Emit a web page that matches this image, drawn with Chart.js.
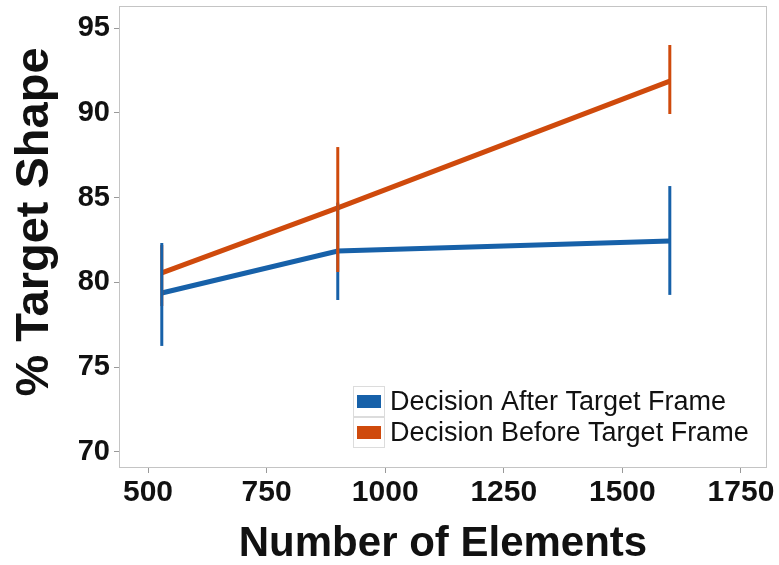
<!DOCTYPE html>
<html>
<head>
<meta charset="utf-8">
<script src="https://cdn.jsdelivr.net/npm/chart.js@4"></script>
<style>
  html, body { margin: 0; padding: 0; background: #fff; }
  #wrap { width: 779px; height: 565px; }
</style>
</head>
<body>
<div id="wrap"><canvas id="chart" width="779" height="565"></canvas></div>
<script>
const xValues = [529, 900, 1600];
const afterMeans = [79.37, 81.85, 82.44];
const afterLow = [76.25, 78.96, 79.26];
const afterHigh = [82.32, 84.7, 85.68];
const beforeMeans = [80.56, 84.39, 91.87];
const beforeLow = [78.6, 80.61, 89.93];
const beforeHigh = [82.2, 87.98, 94.0];
const xTicks = [500, 750, 1000, 1250, 1500, 1750];
const yTicks = [70, 75, 80, 85, 90, 95];
const seriesLabels = ["Decision After Target Frame", "Decision Before Target Frame"];
const yTitle = "% Target Shape";

const blue = "#1761a9";
const orange = "#cf4a0c";
const font = "'Liberation Sans', Arial, sans-serif";

const errors = [
  { low: afterLow, high: afterHigh },
  { low: beforeLow, high: beforeHigh },
];

// error bars: at each x the narrower bar goes first, wider on top
const errorBars = {
  id: "errorBars",
  afterDatasetsDraw(chart) {
    const { ctx, scales } = chart;
    ctx.save();
    ctx.lineWidth = 3;
    xValues.forEach((x, i) => {
      const order = [0, 1].sort(
        (a, b) => (errors[a].high[i] - errors[a].low[i]) - (errors[b].high[i] - errors[b].low[i])
      );
      order.forEach((d) => {
        const px = scales.x.getPixelForValue(x);
        ctx.strokeStyle = chart.data.datasets[d].borderColor;
        ctx.beginPath();
        ctx.moveTo(px, scales.y.getPixelForValue(errors[d].low[i]));
        ctx.lineTo(px, scales.y.getPixelForValue(errors[d].high[i]));
        ctx.stroke();
      });
    });
    ctx.restore();
  },
};

const panel = {
  id: "panel",
  afterDraw(chart) {
    const { ctx, chartArea: a } = chart;
    ctx.save();
    ctx.strokeStyle = "#c4c4c4";
    ctx.lineWidth = 1;
    ctx.strokeRect(a.left + 0.5, a.top + 0.5, a.right - a.left - 1, a.bottom - a.top - 1);

    // y title, placed a bit above the panel centre like the original
    ctx.save();
    ctx.translate(35, 222);
    ctx.rotate(-Math.PI / 2);
    ctx.fillStyle = "#111";
    ctx.font = "bold 47px " + font;
    ctx.textAlign = "center";
    ctx.textBaseline = "middle";
    ctx.fillText(yTitle, 0, 0);
    ctx.restore();

    // legend
    const keyX = 353, keyY = 386, keyW = 32, keyH = 31;
    chart.data.datasets.forEach((ds, i) => {
      const y = keyY + i * keyH;
      ctx.fillStyle = "#fff";
      ctx.fillRect(keyX, y, keyW, keyH);
      ctx.strokeStyle = "#dcdcdc";
      ctx.strokeRect(keyX + 0.5, y + 0.5, keyW - 1, keyH - 1);
      ctx.fillStyle = ds.borderColor;
      ctx.fillRect(keyX + 4, y + 9, keyW - 8, 13);
      ctx.fillStyle = "#111";
      ctx.font = "27px " + font;
      ctx.textBaseline = "middle";
      ctx.textAlign = "left";
      ctx.fillText(ds.label, keyX + keyW + 5, y + keyH / 2 + 1);
    });
    ctx.restore();
  },
};

new Chart(document.getElementById("chart"), {
  type: "line",
  data: {
    datasets: [
      {
        label: seriesLabels[0],
        data: xValues.map((x, i) => ({ x, y: afterMeans[i] })),
        borderColor: blue,
        borderWidth: 5,
        pointRadius: 0,
        tension: 0,
      },
      {
        label: seriesLabels[1],
        data: xValues.map((x, i) => ({ x, y: beforeMeans[i] })),
        borderColor: orange,
        borderWidth: 5,
        pointRadius: 0,
        tension: 0,
      },
    ],
  },
  options: {
    responsive: false,
    animation: false,
    layout: {
      padding: { top: 6, right: 12, left: 0, bottom: 0 },
    },
    plugins: {
      legend: { display: false },
      tooltip: { enabled: false },
    },
    scales: {
      x: {
        type: "linear",
        min: 438.8,
        max: 1804.9,
        afterBuildTicks(scale) {
          scale.ticks = xTicks.map((v) => ({ value: v }));
        },
        afterFit(scale) {
          scale.height = 97;
          scale.paddingLeft = 0;
          scale.paddingRight = 0;
        },
        border: { display: false },
        grid: {
          drawOnChartArea: false,
          tickLength: 5,
          color: "#999",
        },
        ticks: {
          color: "#111",
          padding: 2,
          font: { family: font, size: 30, weight: "bold" },
          maxRotation: 0,
          callback: (v) => String(v),
        },
        title: {
          display: true,
          text: "Number of Elements",
          color: "#111",
          font: { family: font, size: 42, weight: "bold", lineHeight: 1 },
          padding: { top: 0, bottom: 0 },
        },
      },
      y: {
        min: 69.05,
        max: 96.3,
        afterBuildTicks(scale) {
          scale.ticks = yTicks.map((v) => ({ value: v }));
        },
        afterFit(scale) {
          scale.width = 119;
          scale.paddingTop = 0;
          scale.paddingBottom = 0;
        },
        border: { display: false },
        grid: {
          drawOnChartArea: false,
          tickLength: 5,
          color: "#999",
        },
        ticks: {
          color: "#111",
          padding: 4,
          font: { family: font, size: 29, weight: "bold" },
        },
      },
    },
  },
  plugins: [errorBars, panel],
});
</script>
</body>
</html>
